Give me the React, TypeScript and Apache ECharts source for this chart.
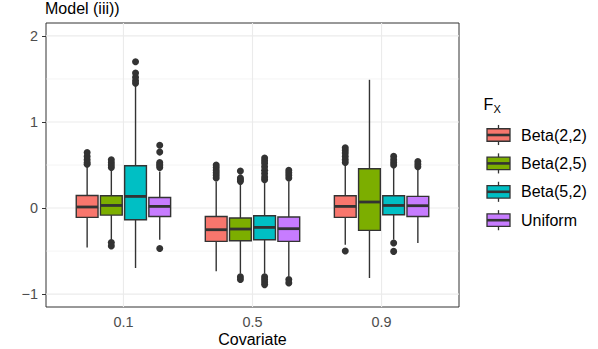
import React, { useEffect, useRef } from 'react';
import * as echarts from 'echarts';

const covariates = ['0.1', '0.5', '0.9'];
const distributions = ['Beta(2,2)', 'Beta(2,5)', 'Beta(5,2)', 'Uniform'];
const fillColors = ['#F8766D', '#7CAE00', '#00BFC4', '#C77CFF'];

// [lower whisker, Q1, median, Q3, upper whisker] for covariate 0.1, 0.5, 0.9
const beta22Stats = [
  [-0.458, -0.109, 0.012, 0.146, 0.483],
  [-0.736, -0.388, -0.252, -0.098, 0.309],
  [-0.426, -0.109, 0.019, 0.143, 0.491],
];
const beta25Stats = [
  [-0.37, -0.082, 0.03, 0.143, 0.45],
  [-0.763, -0.38, -0.244, -0.116, 0.27],
  [-0.813, -0.26, 0.07, 0.456, 1.49],
];
const beta52Stats = [
  [-0.697, -0.136, 0.135, 0.491, 1.42],
  [-0.763, -0.368, -0.225, -0.089, 0.29],
  [-0.368, -0.078, 0.03, 0.143, 0.465],
];
const uniformStats = [
  [-0.368, -0.098, 0.019, 0.123, 0.425],
  [-0.794, -0.388, -0.24, -0.105, 0.31],
  [-0.407, -0.098, 0.027, 0.135, 0.445],
];

// outliers for covariate 0.1, 0.5, 0.9
const beta22Outliers = [
  [0.51, 0.53, 0.56, 0.6, 0.645],
  [0.35, 0.38, 0.41, 0.44, 0.47, 0.5],
  [0.53, 0.56, 0.6, 0.64, 0.67, 0.7, -0.5],
];
const beta25Outliers = [
  [0.47, 0.5, 0.53, 0.56, -0.4, -0.44],
  [0.31, 0.33, 0.35, 0.43, -0.8, -0.83],
  [],
];
const beta52Outliers = [
  [1.45, 1.48, 1.52, 1.57, 1.7],
  [0.33, 0.36, 0.4, 0.44, 0.48, 0.52, 0.55, 0.58, -0.8, -0.83, -0.86, -0.89],
  [0.5, 0.53, 0.56, 0.6, -0.407, -0.504],
];
const uniformOutliers = [
  [0.47, 0.49, 0.51, 0.53, 0.65, 0.73, -0.47],
  [0.35, 0.38, 0.41, 0.44, -0.83, -0.87],
  [0.48, 0.51, 0.54],
];

const yTicks = [-1, 0, 1, 2];
const yMinorTicks = [-0.5, 0.5, 1.5];
const xTicks = [1, 2, 3];

const allStats = [beta22Stats, beta25Stats, beta52Stats, uniformStats];
const allOutliers = [beta22Outliers, beta25Outliers, beta52Outliers, uniformOutliers];

const FONT = '"Liberation Sans", Arial, Helvetica, sans-serif';
const DODGE = 0.1875;
const BOX_W = DODGE * 0.9;
const LINE = '#333333';

export default function App() {
  const ref = useRef<HTMLDivElement>(null);
  useEffect(() => {
    if (!ref.current) return;
    const chart = echarts.init(ref.current, undefined, { renderer: 'svg' });

    const xPos = (g: number, j: number) => g + 1 + (j - 1.5) * DODGE;

    const gridData: number[][] = [
      ...yTicks.map((v) => [2, v, 0]),
      ...yMinorTicks.map((v) => [2, v, 1]),
      ...xTicks.map((v) => [v, 0, 2]),
    ];

    const gridSeries = {
      type: 'custom',
      name: 'grid',
      z: 1,
      silent: true,
      encode: { x: 0, y: 1 },
      data: gridData,
      renderItem: (params: any, api: any) => {
        const cs = params.coordSys;
        const kind = api.value(2);
        const p = api.coord([api.value(0), api.value(1)]);
        if (kind === 2) {
          return {
            type: 'line',
            shape: { x1: p[0], y1: cs.y, x2: p[0], y2: cs.y + cs.height },
            style: { stroke: '#EBEBEB', lineWidth: 1.1 },
          };
        }
        return {
          type: 'line',
          shape: { x1: cs.x, y1: p[1], x2: cs.x + cs.width, y2: p[1] },
          style: { stroke: '#EBEBEB', lineWidth: kind === 0 ? 1.1 : 0.55 },
        };
      },
    };

    const boxSeries = distributions.map((name, j) => ({
      type: 'custom',
      name,
      z: 3,
      encode: { x: 0, y: [1, 2, 3, 4, 5] },
      data: allStats[j].map((s, g) => [xPos(g, j), ...s]),
      renderItem: (params: any, api: any) => {
        const xv = api.value(0);
        const lo = api.value(1);
        const q1 = api.value(2);
        const med = api.value(3);
        const q3 = api.value(4);
        const hi = api.value(5);
        const cx = api.coord([xv, med])[0];
        const y = (v: number) => api.coord([xv, v])[1];
        const w = api.size([BOX_W, 0])[0];
        return {
          type: 'group',
          children: [
            {
              type: 'line',
              shape: { x1: cx, y1: y(hi), x2: cx, y2: y(q3) },
              style: { stroke: LINE, lineWidth: 1.4 },
            },
            {
              type: 'line',
              shape: { x1: cx, y1: y(q1), x2: cx, y2: y(lo) },
              style: { stroke: LINE, lineWidth: 1.4 },
            },
            {
              type: 'rect',
              shape: { x: cx - w / 2, y: y(q3), width: w, height: y(q1) - y(q3) },
              style: { fill: fillColors[j], stroke: LINE, lineWidth: 1.4 },
            },
            {
              type: 'line',
              shape: { x1: cx - w / 2, y1: y(med), x2: cx + w / 2, y2: y(med) },
              style: { stroke: LINE, lineWidth: 2.8 },
            },
          ],
        };
      },
    }));

    const outlierData: number[][] = [];
    allOutliers.forEach((perCov, j) =>
      perCov.forEach((vals, g) => vals.forEach((v) => outlierData.push([xPos(g, j), v])))
    );

    const outlierSeries = {
      type: 'scatter',
      name: 'outliers',
      z: 2,
      symbol: 'circle',
      symbolSize: 7,
      itemStyle: { color: LINE, opacity: 1 },
      data: outlierData,
    };

    const legendTop = 135;
    const legendStep = 28.4;
    const legendGraphics: any[] = [
      {
        type: 'text',
        x: 483.5,
        y: 104.2,
        style: { text: 'F', font: `16px ${FONT}`, fill: '#000', verticalAlign: 'middle', align: 'left' },
      },
      {
        type: 'text',
        x: 493.5,
        y: 108.5,
        style: { text: 'X', font: `11px ${FONT}`, fill: '#000', verticalAlign: 'middle', align: 'left' },
      },
    ];
    distributions.forEach((name, i) => {
      const cy = legendTop + i * legendStep;
      const kx = 487;
      const kw = 23;
      const kh = 12.5;
      legendGraphics.push(
        { type: 'line', shape: { x1: kx + kw / 2, y1: cy - kh / 2 - 3.8, x2: kx + kw / 2, y2: cy - kh / 2 }, style: { stroke: LINE, lineWidth: 1.3 } },
        { type: 'line', shape: { x1: kx + kw / 2, y1: cy + kh / 2, x2: kx + kw / 2, y2: cy + kh / 2 + 3.8 }, style: { stroke: LINE, lineWidth: 1.3 } },
        { type: 'rect', shape: { x: kx, y: cy - kh / 2, width: kw, height: kh }, style: { fill: fillColors[i], stroke: LINE, lineWidth: 1.3 } },
        { type: 'line', shape: { x1: kx, y1: cy, x2: kx + kw, y2: cy }, style: { stroke: LINE, lineWidth: 2.6 } },
        {
          type: 'text',
          x: 521,
          y: cy,
          style: { text: name, font: `16px ${FONT}`, fill: '#000', verticalAlign: 'middle', align: 'left' },
        }
      );
    });

    chart.setOption({
      animation: false,
      backgroundColor: '#FFFFFF',
      textStyle: { fontFamily: FONT },
      title: {
        text: 'Model (iii))',
        left: 45,
        top: 0,
        padding: 0,
        textStyle: { fontSize: 16, fontWeight: 'normal', color: '#000', fontFamily: FONT },
      },
      grid: {
        left: 46,
        top: 23,
        width: 413,
        height: 284,
        show: true,
        borderColor: LINE,
        borderWidth: 1,
        backgroundColor: 'transparent',
        containLabel: false,
      },
      xAxis: {
        type: 'value',
        min: 0.4,
        max: 3.6,
        axisLine: { show: false },
        splitLine: { show: false },
        axisTick: { show: true, customValues: xTicks, length: 4, lineStyle: { color: LINE, width: 1 } },
        axisLabel: {
          customValues: xTicks,
          formatter: (v: number) => covariates[Math.round(v) - 1],
          fontSize: 14.4,
          color: '#4D4D4D',
          margin: 8,
          fontFamily: FONT,
        },
      },
      yAxis: {
        type: 'value',
        min: -1.15,
        max: 2.15,
        axisLine: { show: false },
        splitLine: { show: false },
        axisTick: { show: true, customValues: yTicks, length: 4, lineStyle: { color: LINE, width: 1 } },
        axisLabel: {
          customValues: yTicks,
          formatter: (v: number) => String(v).replace('-', '\u2212'),
          fontSize: 14.4,
          color: '#4D4D4D',
          margin: 8,
          fontFamily: FONT,
        },
      },
      graphic: [
        {
          type: 'text',
          x: 252.5,
          y: 339,
          style: { text: 'Covariate', font: `16px ${FONT}`, fill: '#000', verticalAlign: 'middle', align: 'center' },
        },
        ...legendGraphics,
      ],
      series: [gridSeries, outlierSeries, ...boxSeries],
    });

    return () => chart.dispose();
  }, []);

  return (
    <div
      ref={ref}
      style={{ position: 'fixed', left: 0, top: 0, width: 598, height: 349 }}
    />
  );
}
